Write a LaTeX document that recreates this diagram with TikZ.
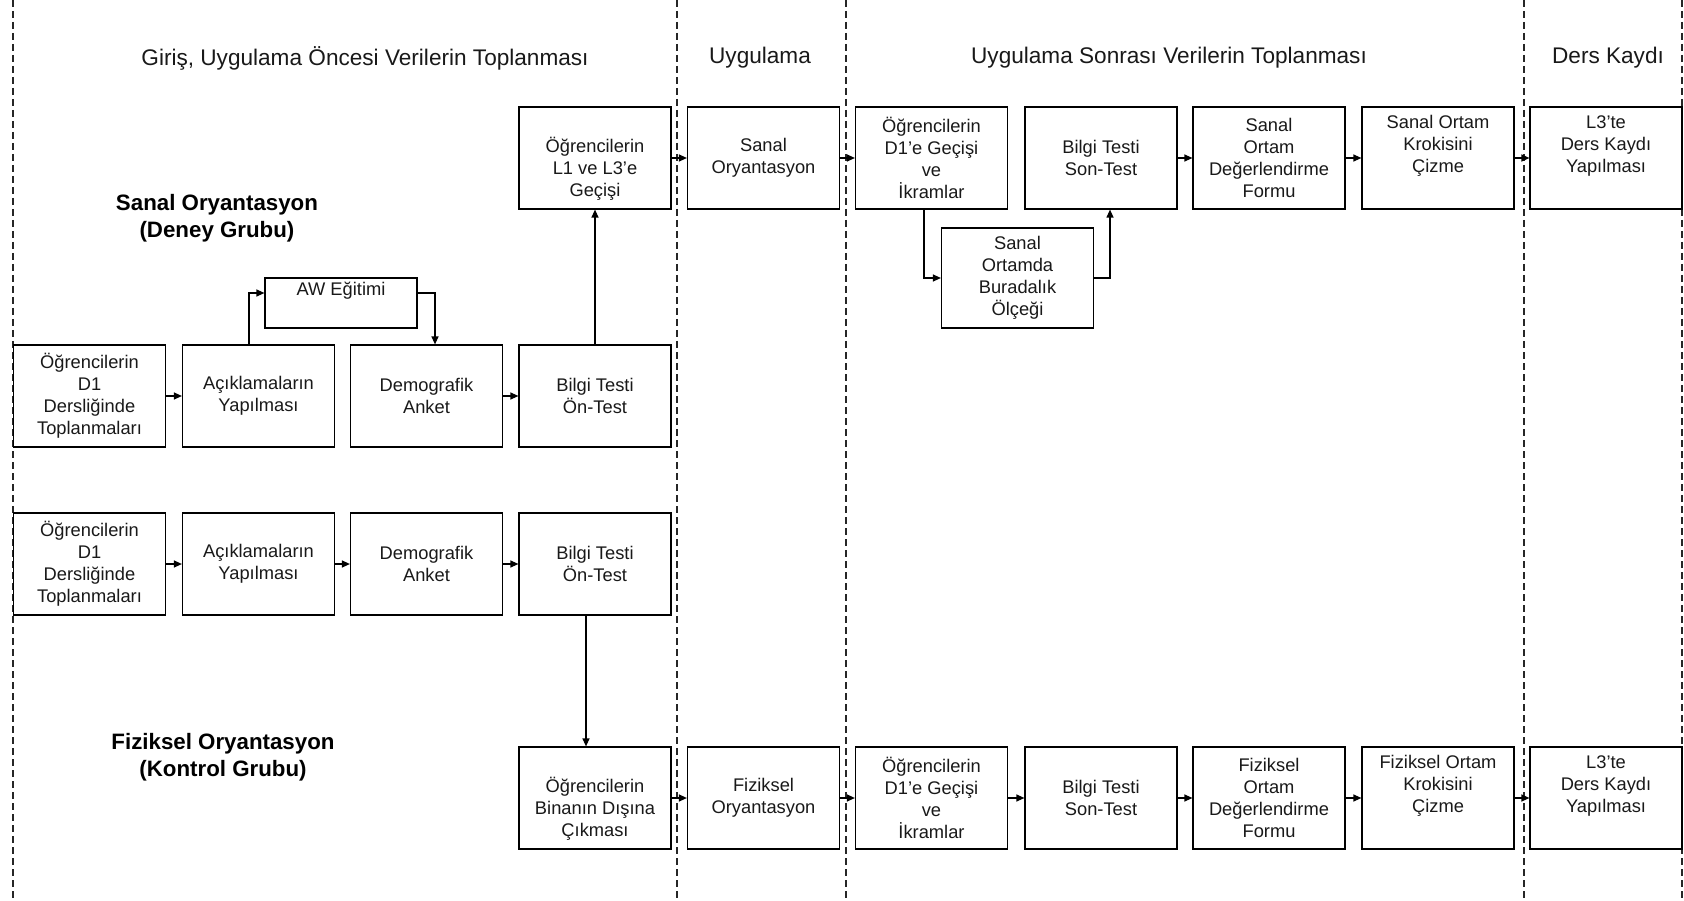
\documentclass[tikz,border=0pt]{standalone}
\usepackage{fontspec}
\setmainfont{Liberation Sans}
\usetikzlibrary{arrows.meta}
\begin{document}
\begin{tikzpicture}[x=1pt,y=-1pt,
  box/.style={draw=black, line width=1.2pt, minimum width=152pt, minimum height=102pt,
              inner sep=0pt, align=center, text=black!90, font=\fontsize{18.3}{22}\selectfont},
  arr/.style={line width=1.2pt, -{Triangle[length=8pt,width=7pt]}},
  sep/.style={dash pattern=on 7pt off 4pt, line width=1.1pt, black!85},
  ttl/.style={text=black!90, font=\fontsize{22.6}{26}\selectfont},
  grp/.style={font=\bfseries\fontsize{22.3}{27}\selectfont, align=center}]
\useasboundingbox (0,0) rectangle (1684,901);
\fill[white] (0,0) rectangle (1684,901);

% separators
\draw[sep] (13,0) -- (13,901);
\draw[sep] (677,0) -- (677,901);
\draw[sep] (846,0) -- (846,901);
\draw[sep] (1524,0) -- (1524,901);
\draw[sep] (1682,0) -- (1682,901);

% titles
\node[ttl] (t1) at (365,58) {Giriş, Uygulama Öncesi Verilerin Toplanması};
\node[ttl] (t2) at (760,58) {Uygulama};
\node[ttl] (t3) at (1169,58) {Uygulama Sonrası Verilerin Toplanması};
\node[ttl] (t4) at (1608,58) {Ders Kaydı};

% group labels
\node[grp] (g1) at (217,218) {Sanal Oryantasyon\\(Deney Grubu)};
\node[grp] (g2) at (223,757) {Fiziksel Oryantasyon\\(Kontrol Grubu)};

% row 1
\node[box] (l1) at (595,158) {\strut\\Öğrencilerin\\L1 ve L3'e\\Geçişi};
\node[box] (so1) at (763.5,158) {Sanal\\Oryantasyon};
\node[box] (d1a) at (931.5,158) {Öğrencilerin\\D1'e Geçişi\\ve\\İkramlar};
\node[box] (son1) at (1101,158) {Bilgi Testi\\Son-Test};
\node[box] (deg1) at (1269,158) {Sanal\\Ortam\\Değerlendirme\\Formu};
\node[box] (kro1) at (1438,158) {Sanal Ortam\\Krokisini\\Çizme\\\strut};
\node[box] (l3a) at (1606,158) {L3'te\\Ders Kaydı\\Yapılması\\\strut};
\node[box, minimum height=100pt] (bur) at (1017.5,278) {Sanal\\Ortamda\\Buradalık\\Ölçeği};
\node[box, minimum height=50pt] (aw) at (341,303) {AW Eğitimi\\\strut};

% row 2
\node[box] (top1) at (89.5,396) {Öğrencilerin\\D1\\Dersliğinde\\Toplanmaları};
\node[box] (acik1) at (258.5,396) {Açıklamaların\\Yapılması};
\node[box] (demo1) at (426.5,396) {Demografik\\Anket};
\node[box] (bil1) at (595,396) {Bilgi Testi\\Ön-Test};

% row 3
\node[box] (top2) at (89.5,564) {Öğrencilerin\\D1\\Dersliğinde\\Toplanmaları};
\node[box] (acik2) at (258.5,564) {Açıklamaların\\Yapılması};
\node[box] (demo2) at (426.5,564) {Demografik\\Anket};
\node[box] (bil2) at (595,564) {Bilgi Testi\\Ön-Test};

% row 4
\node[box] (bin) at (595,798) {\strut\\Öğrencilerin\\Binanın Dışına\\Çıkması};
\node[box] (fo) at (763.5,798) {Fiziksel\\Oryantasyon};
\node[box] (d1b) at (931.5,798) {Öğrencilerin\\D1'e Geçişi\\ve\\İkramlar};
\node[box] (son2) at (1101,798) {Bilgi Testi\\Son-Test};
\node[box] (deg2) at (1269,798) {Fiziksel\\Ortam\\Değerlendirme\\Formu};
\node[box] (kro2) at (1438,798) {Fiziksel Ortam\\Krokisini\\Çizme\\\strut};
\node[box] (l3b) at (1606,798) {L3'te\\Ders Kaydı\\Yapılması\\\strut};

% connectors row 2 (experimental)
\draw[arr] (top1) -- (acik1);
\draw[arr] ([xshift=-9.5pt]acik1.north) |- ([yshift=10pt]aw.west);
\draw[arr] ([yshift=10pt]aw.east) -| ([xshift=8.5pt]demo1.north);
\draw[arr] (demo1) -- (bil1);
\draw[arr] (bil1.north) -- (l1.south);

% row 1
\draw[arr] (l1) -- (so1);
\draw[arr] (so1) -- (d1a);
\draw[arr] ([xshift=-7.5pt]d1a.south) |- (bur.west);
\draw[arr] (bur.east) -| ([xshift=9pt]son1.south);
\draw[arr] (son1) -- (deg1);
\draw[arr] (deg1) -- (kro1);
\draw[arr] (kro1) -- (l3a);

% row 3 (control)
\draw[arr] (top2) -- (acik2);
\draw[arr] (acik2) -- (demo2);
\draw[arr] (demo2) -- (bil2);
\draw[arr] ([xshift=-9pt]bil2.south) -- ([xshift=-9pt]bin.north);

% row 4
\draw[arr] (bin) -- (fo);
\draw[arr] (fo) -- (d1b);
\draw[arr] (d1b) -- (son2);
\draw[arr] (son2) -- (deg2);
\draw[arr] (deg2) -- (kro2);
\draw[arr] (kro2) -- (l3b);
\end{tikzpicture}
\end{document}
